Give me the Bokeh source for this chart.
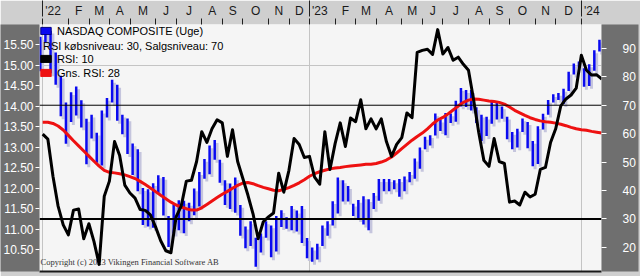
import pandas as pd
from bokeh.plotting import figure
from bokeh.models import (Range1d, LinearAxis, FixedTicker, Span, Legend, LegendItem,
                          Label, Grid, ColumnDataSource, PrintfTickFormatter)
from bokeh.transform import dodge
from bokeh.embed import file_html
from bokeh.resources import INLINE

# ---------------- data (weekly bars, week ending on Sunday) ----------------
week_end = pd.date_range("2021-12-26", periods=110, freq="7D")

high = [15.70, 15.90, 15.85, 15.32, 14.75, 14.10, 14.35, 14.49, 14.15, 13.70,
        13.80, 13.36, 13.90, 14.21, 14.65, 14.53, 13.80, 13.71, 13.10, 12.96,
        12.01, 11.98, 12.13, 12.32, 12.28, 11.33, 11.61, 11.71, 11.70, 11.65,
        12.00, 12.40, 12.72, 13.05, 13.18, 12.70, 12.20, 12.12, 12.27, 11.60,
        11.07, 11.20, 10.80, 10.90, 11.20, 11.10, 11.33, 11.47, 11.30, 11.57,
        11.46, 11.57, 10.79, 10.56, 10.65, 11.10, 11.20, 11.69, 12.27, 12.20,
        12.06, 11.63, 11.72, 11.81, 11.74, 11.89, 12.23, 12.23, 12.23, 12.20,
        12.23, 12.29, 12.40, 12.73, 13.00, 13.26, 13.30, 13.83, 13.68, 13.84,
        13.83, 14.14, 14.45, 14.40, 14.40, 13.98, 13.80, 13.75, 14.13, 14.10,
        14.00, 13.75, 13.38, 13.46, 13.71, 13.62, 13.16, 13.52, 13.82, 14.16,
        14.30, 14.33, 14.43, 14.85, 15.05, 15.10, 14.93, 15.03, 15.37, 15.63]

low = [14.86, 15.56, 14.81, 14.53, 13.76, 13.09, 13.62, 13.78, 13.49, 12.59,
       13.22, 12.63, 12.56, 13.73, 14.10, 13.65, 13.32, 12.84, 12.33, 11.93,
       11.11, 11.07, 11.04, 11.89, 11.34, 10.57, 10.90, 10.98, 10.91, 11.20,
       11.35, 11.56, 12.24, 12.35, 12.70, 12.14, 11.60, 11.50, 11.41, 10.85,
       10.54, 10.60, 10.09, 10.44, 10.80, 10.32, 10.46, 11.06, 11.02, 10.98,
       10.95, 10.67, 10.30, 10.21, 10.27, 10.60, 10.85, 11.10, 11.39, 11.68,
       11.68, 11.33, 11.25, 11.12, 10.98, 11.50, 11.70, 11.93, 11.93, 11.98,
       11.80, 11.93, 12.15, 12.24, 12.48, 12.96, 13.05, 13.29, 13.40, 13.30,
       13.60, 13.63, 14.00, 13.99, 13.90, 13.60, 13.16, 13.28, 13.58, 13.68,
       13.70, 13.20, 12.96, 13.00, 13.38, 12.98, 12.54, 12.60, 13.44, 13.80,
       14.10, 14.16, 14.06, 14.38, 14.78, 14.95, 14.48, 14.50, 14.87, 15.34]

rsi10 = [59.8, 58.1, 45.0, 34.5, 27.9, 24.4, 33.1, 33.5, 23.0, 28.3,
         22.0, 14.0, 38.0, 43.3, 57.2, 52.3, 41.9, 39.1, 37.3, 33.3,
         33.0, 31.4, 27.2, 22.3, 18.8, 18.1, 30.7, 34.5, 43.3, 43.6,
         50.2, 60.7, 56.9, 61.7, 64.9, 63.8, 52.0, 61.4, 50.2, 44.3,
         38.4, 31.8, 23.0, 29.0, 30.7, 32.1, 46.1, 39.4, 47.1, 58.3,
         56.2, 51.6, 52.0, 44.7, 42.2, 60.7, 47.4, 56.5, 63.8, 55.5,
         65.5, 64.2, 71.9, 61.7, 65.2, 61.7, 65.2, 57.2, 52.0, 56.2,
         58.6, 67.3, 65.6, 88.6, 89.3, 89.7, 87.9, 96.6, 88.0, 90.3,
         85.8, 86.9, 84.4, 82.3, 71.9, 60.4, 50.6, 48.5, 58.3, 50.2,
         49.5, 35.9, 36.3, 34.9, 39.4, 37.7, 38.7, 47.4, 48.1, 56.9,
         61.7, 69.8, 72.2, 73.6, 76.0, 87.6, 82.3, 80.6, 80.7, 79.2]

rsi28 = [64.0, 64.0, 63.6, 62.7, 61.3, 59.4, 57.5, 55.7, 53.9, 52.1,
         50.3, 48.6, 47.1, 46.4, 46.2, 45.9, 45.5, 44.9, 44.2, 43.2,
         42.1, 40.9, 39.6, 38.3, 37.1, 35.9, 34.9, 34.2, 33.6, 33.1,
         33.1, 33.9, 35.1, 36.3, 37.5, 38.7, 39.7, 40.8, 41.8, 42.6,
         42.8, 42.4, 41.7, 41.1, 40.6, 40.1, 39.9, 40.4, 41.0, 41.8,
         42.7, 43.8, 45.0, 45.9, 46.6, 47.1, 47.6, 47.9, 48.1, 48.4,
         48.6, 48.8, 49.0, 49.2, 49.2, 49.5, 50.0, 50.7, 51.8, 53.2,
         54.7, 56.2, 57.7, 59.0, 60.2, 61.7, 63.4, 64.8, 65.7, 66.9,
         68.3, 69.7, 71.0, 71.8, 72.2, 72.1, 71.8, 71.5, 71.3, 71.0,
         70.4, 69.4, 68.2, 67.3, 66.4, 65.6, 65.0, 64.5, 64.2, 64.0,
         63.7, 63.3, 62.8, 62.2, 61.7, 61.4, 61.2, 60.8, 60.5, 60.2]

price_ticks = [10.5, 11.0, 11.5, 12.0, 12.5, 13.0, 13.5, 14.0, 14.5, 15.0, 15.5]
rsi_ticks = [20, 30, 40, 50, 60, 70, 80, 90]
rsi_buy = 30
rsi_sell = 70
price_grid = [15.0]
month_letters = ["J", "F", "M", "A", "M", "J", "J", "A", "S", "O", "N", "D"]
legend_labels = ["NASDAQ COMPOSITE (Uge)", "RSI købsniveau: 30, Salgsniveau: 70",
                 "RSI: 10", "Gns. RSI: 28"]
copyright_text = "Copyright (c) 2023 Vikingen Financial Software AB"

# ---------------- styling ----------------
FONT = "Liberation Sans"
DARK = "#6f6f6f"
LIGHT = "#cfcfcf"
BLUE = "#0a0af0"
SHADOW = "#c5c5dd"
RED = "#ee1111"
NAN = float("nan")

n = len(week_end)
idx = list(range(n))

# month / year boundaries between weekly bars
starts = [i for i in range(1, n) if week_end[i].month != week_end[i - 1].month]
bounds, year_bounds, label_pos, label_txt = [], [], [], []
for j, i in enumerate(starts):
    b = i - 0.5
    bounds.append(b)
    d = week_end[i]
    if d.month == 1:
        year_bounds.append(b)
        label_pos.append(b + 2.0)
        label_txt.append("'%02d" % (d.year % 100))
    else:
        nxt = starts[j + 1] - 0.5 if j + 1 < len(starts) else n - 0.5
        label_pos.append((b + nxt) / 2.0)
        label_txt.append(month_letters[d.month - 1])

p = figure(width=640, height=276,
           x_range=Range1d(-0.155, 109.4), y_range=Range1d(9.975, 16.0),
           x_axis_location=None, y_axis_location=None,
           toolbar_location=None, output_backend="svg",
           min_border_left=37, min_border_right=39, min_border_top=22, min_border_bottom=5,
           background_fill_color="#f5f5f5", border_fill_color=LIGHT,
           outline_line_color=None)
p.extra_y_ranges = {"rsi": Range1d(11.5, 98.4)}
p.grid.visible = False


def set_bg(ax, color):
    try:
        ax.background_fill_color = color
        return True
    except Exception:
        return False


# ---------------- axes ----------------
yl = LinearAxis(ticker=FixedTicker(ticks=price_ticks, minor_ticks=[]),
                formatter=PrintfTickFormatter(format="%.2f"),
                major_tick_in=0, major_tick_out=4, major_tick_line_color="white",
                minor_tick_line_color=None, axis_line_color=None,
                major_label_standoff=2, major_label_text_color="white",
                major_label_text_font=FONT, major_label_text_font_size="12px")
yr = LinearAxis(y_range_name="rsi", ticker=FixedTicker(ticks=rsi_ticks, minor_ticks=[]),
                major_tick_in=0, major_tick_out=5, major_tick_line_color="white",
                minor_tick_line_color=None, axis_line_color=None,
                major_label_standoff=16, major_label_text_color="white",
                major_label_text_font=FONT, major_label_text_font_size="12px")
p.add_layout(yl, "left")
p.add_layout(yr, "right")
ok = set_bg(yl, DARK) and set_bg(yr, DARK)
top_color = "#1a1a1a"
if not ok:
    p.border_fill_color = DARK
    top_color = "white"

xa = LinearAxis(ticker=FixedTicker(ticks=label_pos, minor_ticks=bounds),
                major_label_overrides={float(v): t for v, t in zip(label_pos, label_txt)},
                major_tick_in=0, major_tick_out=6, major_tick_line_color=None,
                minor_tick_in=0, minor_tick_out=6, minor_tick_line_color="#202020",
                axis_line_color=None, major_label_standoff=1,
                major_label_text_font=FONT, major_label_text_font_size="12px",
                major_label_text_color=top_color)
p.add_layout(xa, "above")
xy = LinearAxis(ticker=FixedTicker(ticks=[], minor_ticks=year_bounds),
                major_tick_in=0, major_tick_out=0, minor_tick_in=16, minor_tick_out=0,
                minor_tick_line_color="#202020", axis_line_color=None,
                major_label_standoff=0)
p.add_layout(xy, "above")

xb = LinearAxis(ticker=FixedTicker(ticks=[], minor_ticks=[]),
                major_tick_in=0, major_tick_out=0, minor_tick_out=0,
                axis_line_color="#1a1a1a", axis_line_width=2, major_label_standoff=0)
p.add_layout(xb, "below")

# ---------------- grid / reference lines ----------------
p.add_layout(Grid(dimension=0, ticker=FixedTicker(ticks=year_bounds),
                  grid_line_color="#c4c4c4", grid_line_width=1))
p.add_layout(Grid(dimension=1, ticker=FixedTicker(ticks=price_grid),
                  grid_line_color="#c4c4c4", grid_line_width=1))

p.add_layout(Label(x=0.04, y=10.09, text=copyright_text, text_font="Liberation Serif",
                   text_font_size="8.5px", text_color="#333333", level="underlay"))

# ---------------- price bars ----------------
src = ColumnDataSource(dict(x=idx, hi=high, lo=low, r10=rsi10, r28=rsi28))
p.segment(x0=dodge("x", 0.45), y0=dodge("lo", -0.07), x1=dodge("x", 0.45), y1=dodge("hi", -0.07),
          source=src, line_color=SHADOW, line_width=3)
p.segment(x0="x", y0="lo", x1="x", y1="hi", source=src, line_color=BLUE, line_width=2.5)

p.add_layout(Span(location=rsi_sell, dimension="width", y_range_name="rsi",
                  line_color="black", line_width=1))
p.add_layout(Span(location=rsi_buy, dimension="width", y_range_name="rsi",
                  line_color="black", line_width=2))

# ---------------- RSI lines ----------------
p.line(x=dodge("x", 0.47), y="r28", source=src, y_range_name="rsi",
       line_color=RED, line_width=3, line_join="round")
p.line(x=dodge("x", 0.47), y="r10", source=src, y_range_name="rsi",
       line_color="black", line_width=3, line_join="round")

# ---------------- legend (icon proxies hold no drawable point) ----------------
def proxy(**kw):
    return p.quad(left=[NAN], right=[NAN], top=[NAN], bottom=[NAN], **kw)


ic_nas = proxy(fill_color=BLUE, line_color="#000080")
ic_blank = proxy(fill_alpha=0, line_alpha=0)
ic_rsi = proxy(fill_color="black", line_color="black")
ic_avg = proxy(fill_color=RED, line_color=RED)

legend = Legend(items=[LegendItem(label=legend_labels[0], renderers=[ic_nas]),
                       LegendItem(label="", renderers=[ic_blank]),
                       LegendItem(label=legend_labels[2], renderers=[ic_rsi]),
                       LegendItem(label=legend_labels[3], renderers=[ic_avg])],
                location="top_left", margin=0, padding=1, spacing=1,
                label_height=13, glyph_height=9, glyph_width=13, label_standoff=5,
                background_fill_alpha=0, border_line_color=None,
                label_text_font=FONT, label_text_font_size="11px", label_text_color="black")
p.add_layout(legend)
p.add_layout(Label(x=0.52, y=15.48, text=legend_labels[1], text_font=FONT,
                   text_font_size="11px", text_baseline="middle", text_color="black"))

open("out.html", "w").write(file_html(p, INLINE))
